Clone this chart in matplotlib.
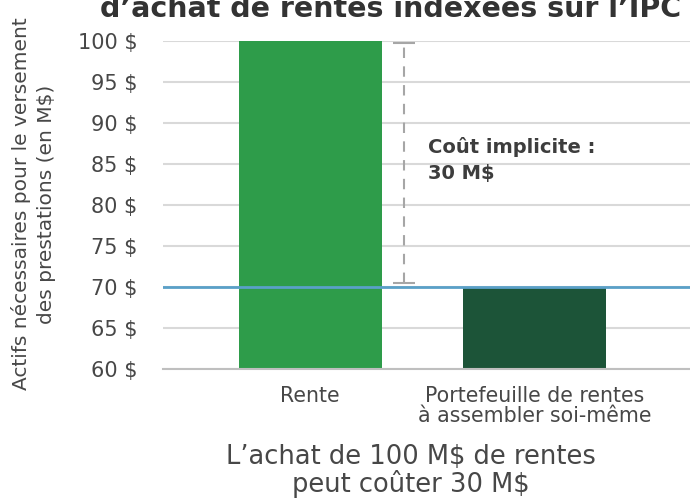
import numpy as np
import matplotlib
matplotlib.use('Agg')
import matplotlib.pyplot as plt

plt.rcParams['font.family'] = ['DejaVu Sans']

categories = ['Rente', 'Portefeuille de rentes\nà assembler soi-même']
values = [100, 70]
bar_colors = ['#2e9c4a', '#1c5438']
ticks = np.arange(60, 101, 5)
tick_labels = ['%d $' % t for t in ticks]
cost_low, cost_high = 70.5, 99.8
cost_text = 'Coût implicite :\n30 M$'

title = 'd\u2019achat de rentes indexées sur l\u2019IPC'
xlabel = 'L\u2019achat de 100 M$ de rentes\npeut coûter 30 M$'
ylabel = 'Actifs nécessaires pour le versement\ndes prestations (en M$)'

txt = '#474747'

fig = plt.figure(figsize=(6.9, 4.99), dpi=100)
ax = fig.add_axes([0.236, 0.2605, 0.764, 0.6575])

x = np.arange(len(categories))
ax.bar(x, values, width=0.64, color=bar_colors, zorder=3)
ax.axhline(values[1], color='#5aa0c8', lw=2, zorder=4)

mid = (cost_low + cost_high) / 2
eb = ax.errorbar([0.42], [mid], yerr=[(cost_high - cost_low) / 2], fmt='none',
                 ecolor='#a6a6a6', elinewidth=1.5, capsize=8, capthick=1.5, zorder=5)
eb[2][0].set_linestyle((0, (5, 4)))

ax.text(0.525, 88.3, cost_text, fontsize=14, fontweight='bold', color='#3d3d3d',
        va='top', ha='left', linespacing=1.45)

ax.set_ylim(60, 100)
ax.set_xlim(-0.658, 1.695)
ax.set_yticks(ticks)
ax.set_yticklabels(tick_labels, fontsize=15, color=txt)
ax.set_xticks(x)
ax.set_xticklabels(categories, fontsize=14.8, color=txt, linespacing=1.05)
ax.tick_params(length=0, pad=18.5)
ax.tick_params(axis='x', pad=12)
ax.grid(axis='y', color='#d9d9d9', lw=1.5, zorder=0)
for s in ['top', 'right', 'left']:
    ax.spines[s].set_visible(False)
ax.spines['bottom'].set_color('#bfbfbf')
ax.spines['bottom'].set_linewidth(1.5)
ax.spines['bottom'].set_zorder(6)

ax.set_xlabel(xlabel, fontsize=18.5, color=txt, linespacing=1.0)
ax.xaxis.set_label_coords(0.47, -0.23)
ax.set_ylabel(ylabel, fontsize=14.5, color=txt, linespacing=1.4)
ax.yaxis.set_label_coords(-0.203, 0.503)

fig.text(391 / 690, 1 - 17 / 499, title, fontsize=20.5, fontweight='bold',
         color='#333333', ha='center', va='baseline')

fig.savefig('out.png', dpi=100)
